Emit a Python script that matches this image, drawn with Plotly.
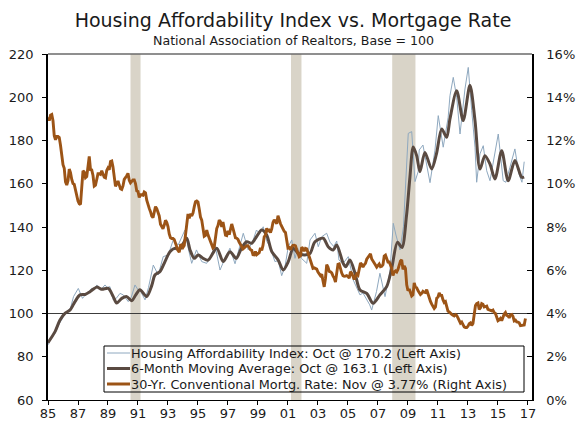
import plotly.graph_objects as go

# ---------------- data ----------------
# 30-yr conventional mortgage rate, monthly, Jan 1985 .. Nov 2016 (%)
rate_start_year = 1985
mortgage_rate = [
    13.08, 12.92, 13.17, 13.20, 12.91, 12.22, 12.03, 12.19, 12.19, 12.14, 11.78, 11.26,
    10.88, 10.71, 10.08, 9.94, 10.14, 10.68, 10.51, 10.20, 10.01, 9.97, 9.70, 9.31,
    9.20, 9.08, 9.04, 9.83, 10.60, 10.54, 10.28, 10.33, 10.89, 11.26, 10.65, 10.64,
    10.38, 9.89, 9.93, 10.20, 10.46, 10.46, 10.43, 10.60, 10.48, 10.30, 10.27, 10.61,
    10.73, 10.65, 11.03, 11.05, 10.77, 10.20, 9.88, 9.99, 10.13, 9.95, 9.77, 9.74,
    9.90, 10.20, 10.27, 10.37, 10.48, 10.16, 10.04, 10.10, 10.18, 10.18, 10.01, 9.67,
    9.64, 9.37, 9.50, 9.49, 9.47, 9.62, 9.58, 9.24, 9.01, 8.86, 8.71, 8.50,
    8.43, 8.76, 8.94, 8.85, 8.67, 8.51, 8.13, 7.98, 7.92, 8.09, 8.31, 8.22,
    8.02, 7.68, 7.50, 7.47, 7.47, 7.42, 7.21, 7.11, 6.92, 6.83, 7.16, 7.17,
    7.06, 7.15, 7.68, 8.32, 8.60, 8.40, 8.61, 8.51, 8.64, 8.93, 9.17, 9.20,
    9.15, 8.83, 8.46, 8.32, 7.96, 7.57, 7.61, 7.86, 7.64, 7.48, 7.38, 7.20,
    7.03, 7.08, 7.62, 7.93, 8.07, 8.32, 8.25, 8.00, 8.23, 7.92, 7.62, 7.60,
    7.82, 7.65, 7.90, 8.14, 7.94, 7.69, 7.50, 7.48, 7.43, 7.29, 7.21, 7.10,
    6.99, 7.04, 7.13, 7.14, 7.14, 7.00, 6.95, 6.92, 6.72, 6.71, 6.87, 6.72,
    6.79, 6.81, 7.04, 6.92, 7.15, 7.55, 7.63, 7.94, 7.82, 7.85, 7.74, 7.91,
    8.21, 8.33, 8.24, 8.15, 8.52, 8.29, 8.15, 8.03, 7.91, 7.80, 7.75, 7.38,
    7.03, 7.05, 6.95, 7.08, 7.15, 7.16, 7.13, 6.95, 6.82, 6.62, 6.66, 7.07,
    7.00, 6.89, 7.01, 6.99, 6.81, 6.65, 6.49, 6.29, 6.09, 6.11, 6.07, 6.05,
    5.92, 5.84, 5.75, 5.81, 5.48, 5.23, 5.63, 6.26, 6.15, 5.95, 5.93, 5.88,
    5.74, 5.64, 5.45, 5.83, 6.27, 6.29, 6.06, 5.87, 5.75, 5.72, 5.73, 5.75,
    5.71, 5.63, 5.93, 5.86, 5.72, 5.58, 5.70, 5.82, 5.77, 6.07, 6.33, 6.27,
    6.15, 6.25, 6.32, 6.51, 6.60, 6.68, 6.76, 6.52, 6.40, 6.36, 6.24, 6.14,
    6.22, 6.29, 6.16, 6.18, 6.26, 6.66, 6.70, 6.57, 6.38, 6.38, 6.21, 6.10,
    5.76, 5.92, 5.97, 5.92, 6.04, 6.32, 6.43, 6.48, 6.04, 6.20, 6.09, 5.33,
    5.06, 5.13, 5.00, 4.81, 4.86, 5.42, 5.22, 5.19, 5.06, 4.95, 4.88, 4.93,
    5.03, 4.99, 4.97, 5.10, 4.89, 4.74, 4.56, 4.43, 4.35, 4.23, 4.30, 4.71,
    4.76, 4.95, 4.84, 4.84, 4.64, 4.51, 4.55, 4.27, 4.11, 4.07, 3.99, 3.96,
    3.92, 3.89, 3.95, 3.91, 3.80, 3.68, 3.55, 3.60, 3.50, 3.38, 3.35, 3.35,
    3.41, 3.53, 3.57, 3.45, 3.54, 4.07, 4.37, 4.46, 4.49, 4.19, 4.26, 4.46,
    4.43, 4.30, 4.34, 4.34, 4.19, 4.16, 4.13, 4.12, 4.16, 4.04, 4.00, 3.86,
    3.67, 3.71, 3.77, 3.67, 3.84, 3.98, 4.05, 3.91, 3.89, 3.80, 3.94, 3.96,
    3.87, 3.66, 3.69, 3.61, 3.60, 3.57, 3.44, 3.44, 3.46, 3.47, 3.77,
]

# Housing Affordability Index (decimal year, index)
hai_dates = [
    1985.0, 1985.2, 1985.47, 1985.65, 1985.9, 1986.1, 1986.35, 1986.5, 1986.7, 1986.85,
    1987.02, 1987.3, 1987.58, 1987.75, 1987.9, 1988.1, 1988.25, 1988.5, 1988.8, 1988.95,
    1989.13, 1989.35, 1989.55, 1989.8, 1990.02, 1990.35, 1990.55, 1990.8, 1991.0, 1991.13,
    1991.47, 1991.7, 1992.02, 1992.35, 1992.68, 1993.02, 1993.35, 1993.68, 1993.9, 1994.13,
    1994.35, 1994.58, 1994.9, 1995.25, 1995.58, 1995.9, 1996.13, 1996.47, 1996.8, 1997.13,
    1997.47, 1997.75, 1998.02, 1998.35, 1998.68, 1998.9, 1999.1, 1999.35, 1999.6, 1999.8,
    2000.13, 2000.35, 2000.58, 2000.8, 2001.02, 2001.25, 2001.47, 2001.65, 2001.9, 2002.25,
    2002.47, 2002.8, 2003.02, 2003.25, 2003.58, 2003.8, 2004.05, 2004.25, 2004.4, 2004.68,
    2005.02, 2005.35, 2005.6, 2005.8, 2006.0, 2006.25, 2006.45, 2006.58, 2006.9, 2007.13,
    2007.47, 2007.8, 2008.02, 2008.2, 2008.47, 2008.7, 2009.02, 2009.25, 2009.47, 2009.68,
    2009.75, 2010.0, 2010.2, 2010.47, 2010.8, 2011.02, 2011.35, 2011.68, 2011.8, 2012.02,
    2012.25, 2012.47, 2012.8, 2013.02, 2013.25, 2013.47, 2013.58, 2013.8, 2014.02, 2014.25,
    2014.47, 2014.68, 2015.02, 2015.35, 2015.53, 2015.8, 2016.13, 2016.4, 2016.6, 2016.75,
]
hai_values = [
    85.5, 88.5, 90.8, 94.0, 97.0, 99.5, 101.6, 102.5, 107.8, 109.5,
    111.6, 107.0, 109.3, 110.0, 111.6, 111.0, 113.2, 110.9, 113.2, 112.0,
    112.4, 106.3, 107.0, 109.3, 108.6, 105.5, 107.5, 113.2, 111.0, 110.9,
    106.3, 112.0, 122.4, 117.8, 126.3, 127.1, 134.0, 131.7, 134.8, 138.6,
    130.2, 123.2, 129.4, 124.0, 123.2, 127.1, 131.7, 120.1, 125.5, 130.2,
    123.0, 130.0, 137.1, 129.4, 134.0, 138.6, 137.1, 140.1, 133.2, 130.9,
    124.0, 124.5, 117.5, 121.6, 130.9, 134.0, 125.5, 130.2, 125.5, 123.2,
    134.0, 137.1, 130.9, 135.5, 137.1, 133.0, 131.0, 133.5, 124.7, 123.2,
    126.3, 115.5, 112.0, 108.6, 109.5, 106.3, 104.0, 101.6, 110.1, 118.6,
    107.8, 119.4, 141.7, 136.3, 129.4, 140.1, 183.3, 184.1, 161.0, 165.6,
    175.6, 177.9, 170.0, 160.5, 175.5, 191.5, 176.9, 190.7, 200.7, 209.2,
    200.0, 183.0, 203.8, 213.8, 193.8, 176.9, 160.7, 173.8, 177.6, 166.0,
    161.4, 169.1, 183.0, 161.4, 160.7, 167.6, 176.1, 164.5, 160.7, 170.2,
]

# 6-month moving average (decimal year, index)
ma_dates = [
    1985.0, 1985.47, 1985.8, 1986.13, 1986.47, 1986.8, 1987.13, 1987.47, 1987.8, 1988.25,
    1988.58, 1989.02, 1989.35, 1989.58, 1989.92, 1990.25, 1990.58, 1990.85, 1991.13, 1991.58,
    1991.92, 1992.13, 1992.47, 1992.8, 1993.13, 1993.47, 1993.75, 1994.02, 1994.25, 1994.47,
    1994.75, 1995.02, 1995.35, 1995.68, 1996.25, 1996.68, 1997.13, 1997.55, 1997.9, 1998.25,
    1998.58, 1998.9, 1999.25, 1999.58, 1999.92, 2000.35, 2000.68, 2001.02, 2001.35, 2001.68,
    2002.13, 2002.47, 2002.8, 2003.35, 2003.68, 2004.02, 2004.25, 2004.68, 2004.85, 2005.13,
    2005.47, 2005.8, 2006.25, 2006.68, 2007.13, 2007.58, 2007.92, 2008.3, 2008.6, 2008.9,
    2009.13, 2009.35, 2009.58, 2009.8, 2010.13, 2010.58, 2010.9, 2011.25, 2011.58, 2011.8,
    2012.25, 2012.68, 2013.13, 2013.47, 2013.8, 2014.13, 2014.47, 2014.8, 2015.25, 2015.68,
    2016.13, 2016.58, 2016.75,
]
ma_values = [
    86.5, 91.6, 97.0, 100.1, 101.6, 105.5, 108.6, 108.8, 110.1, 112.2,
    111.2, 111.6, 107.8, 104.8, 107.0, 107.8, 105.9, 108.6, 111.0, 107.8,
    113.0, 117.8, 119.4, 124.0, 128.6, 130.2, 129.4, 132.5, 134.8, 129.4,
    125.5, 127.1, 125.5, 124.7, 130.2, 124.0, 128.6, 125.5, 130.2, 133.2,
    132.5, 135.5, 138.6, 136.3, 128.6, 124.7, 120.1, 124.0, 130.2, 127.8,
    127.1, 127.8, 133.2, 134.8, 130.9, 129.4, 131.7, 123.2, 121.6, 124.7,
    118.6, 110.9, 109.3, 104.7, 108.6, 112.4, 121.0, 133.0, 130.5, 145.0,
    163.0, 177.0, 173.0, 165.6, 174.5, 166.8, 173.8, 185.3, 181.5, 190.0,
    203.0, 189.2, 205.5, 189.2, 166.8, 173.0, 169.1, 162.2, 175.3, 161.4,
    170.7, 163.0, 163.1,
]

# recessions (decimal years)
recession_starts = [1990.5, 2001.2, 2007.95]
recession_ends = [1991.17, 2001.9, 2009.5]

tick_years = list(range(1985, 2018, 2))
tick_labels = ["85", "87", "89", "91", "93", "95", "97", "99", "01", "03",
               "05", "07", "09", "11", "13", "15", "17"]

legend_labels = [
    "Housing Affordability Index: Oct @ 170.2 (Left Axis)",
    "6-Month Moving Average: Oct @ 163.1 (Left Axis)",
    "30-Yr. Conventional Mortg. Rate: Nov @ 3.77% (Right Axis)",
]

assert len(hai_dates) == len(hai_values)
assert len(ma_dates) == len(ma_values)

rate_dates = [rate_start_year + i / 12 for i in range(len(mortgage_rate))]

# ---------------- styling ----------------
FONT = "DejaVu Sans"
C_HAI = "#8ea8bf"
C_MA = "#5a4a41"
C_RATE = "#9c5416"
C_BAND = "#d9d4c8"
TXT = "#1a1a1a"

W, H = 586, 421
ML, MR, MT, MB = 48, 54, 54, 21
PW, PH = W - ML - MR, H - MT - MB


def px_x(px):
    return (px - ML) / PW


def px_y(py):
    return (H - MB - py) / PH


fig = go.Figure()
fig.add_trace(go.Scatter(x=hai_dates, y=hai_values, mode="lines",
                         line=dict(color=C_HAI, width=1), showlegend=False,
                         hoverinfo="skip"))
fig.add_trace(go.Scatter(x=ma_dates, y=ma_values, mode="lines",
                         line=dict(color=C_MA, width=3, shape="spline", smoothing=0.8),
                         showlegend=False, hoverinfo="skip"))
fig.add_trace(go.Scatter(x=rate_dates, y=mortgage_rate, mode="lines", yaxis="y2",
                         line=dict(color=C_RATE, width=2.9), showlegend=False,
                         hoverinfo="skip"))

shapes = []
for s, e in zip(recession_starts, recession_ends):
    shapes.append(dict(type="rect", xref="x", yref="paper", x0=s, x1=e, y0=0, y1=1,
                       fillcolor=C_BAND, line=dict(width=0), layer="below"))
shapes.append(dict(type="line", xref="paper", yref="y", x0=0, x1=1, y0=100, y1=100,
                   line=dict(color="#3c3c3c", width=1), layer="below"))
shapes.append(dict(type="line", xref="paper", yref="paper", x0=0, x1=1, y0=1, y1=1,
                   line=dict(color="#6a6a6a", width=1.5)))
# legend box
shapes.append(dict(type="rect", xref="paper", yref="paper",
                   x0=px_x(104), x1=px_x(524), y0=px_y(392), y1=px_y(346),
                   line=dict(color="#000000", width=1), fillcolor="rgba(0,0,0,0)"))

annotations = []
legend_rows = [353, 368.5, 384]
legend_styles = [(C_HAI, 1), (C_MA, 3), (C_RATE, 3)]
for label, row, (col, wid) in zip(legend_labels, legend_rows, legend_styles):
    shapes.append(dict(type="line", xref="paper", yref="paper",
                       x0=px_x(107), x1=px_x(130), y0=px_y(row), y1=px_y(row),
                       line=dict(color=col, width=wid)))
    annotations.append(dict(text=label, xref="paper", yref="paper", x=px_x(129),
                            y=px_y(row), xanchor="left", yanchor="middle",
                            showarrow=False, font=dict(family=FONT, size=12.8, color=TXT)))

annotations.append(dict(text="National Association of Realtors, Base = 100",
                        xref="paper", yref="paper", x=px_x(293), y=px_y(40),
                        xanchor="center", yanchor="middle", showarrow=False,
                        font=dict(family=FONT, size=12.6, color=TXT)))

fig.update_layout(
    width=W, height=H,
    margin=dict(l=ML, r=MR, t=MT, b=MB, pad=0, autoexpand=False),
    paper_bgcolor="white", plot_bgcolor="white",
    font=dict(family=FONT, size=13, color=TXT),
    title=dict(text="Housing Affordability Index vs. Mortgage Rate",
               x=0.5, xref="container", xanchor="center",
               y=1 - 20 / H, yref="container", yanchor="middle",
               font=dict(family=FONT, size=19, color=TXT)),
    xaxis=dict(range=[1985, 2017.27], tickmode="array", tickvals=tick_years,
               ticktext=tick_labels, ticks="outside", ticklen=4, tickcolor="#000",
               showline=True, linecolor="#000", linewidth=1, showgrid=False,
               zeroline=False, tickfont=dict(size=13), automargin=False,
               ticklabelstandoff=-3),
    yaxis=dict(range=[60, 220], dtick=20, ticks="outside", ticklen=4, tickcolor="#000",
               showline=True, linecolor="#000", linewidth=1.5, showgrid=False,
               zeroline=False, tickfont=dict(size=13), ticklabelstandoff=6,
               automargin=False),
    yaxis2=dict(range=[0, 16], dtick=2, ticksuffix="%", overlaying="y", side="right",
                ticks="inside", ticklen=5, tickcolor="#000", showline=True,
                linecolor="#000", linewidth=1.5, showgrid=False, zeroline=False,
                tickfont=dict(size=13), ticklabelstandoff=10, automargin=False),
    shapes=shapes, annotations=annotations,
    showlegend=False,
)

# remove the default 8px page margin so the figure sits at the window's corner
fig.write_html("out.html",
               config={"displayModeBar": False},
               post_script="document.body.style.margin='0px';document.body.style.padding='0px';")
